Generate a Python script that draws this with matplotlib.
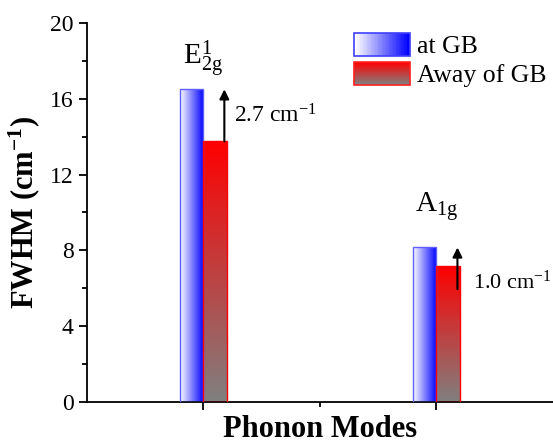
import matplotlib
matplotlib.use("Agg")
import matplotlib.pyplot as plt
import numpy as np
from matplotlib.patches import Rectangle
from matplotlib.legend_handler import HandlerBase
from matplotlib.colors import LinearSegmentedColormap
from matplotlib.ticker import MultipleLocator, FixedLocator, NullFormatter

# data
modes = [1, 2]
mode_labels = [r"E$^{1}_{2\mathrm{g}}$", r"A$_{1\mathrm{g}}$"]
fwhm_at_gb = [16.5, 8.15]
fwhm_away_gb = [13.75, 7.15]
diff_labels = [r"2.7 cm$^{-1}$", r"1.0 cm$^{-1}$"]

plt.rcParams["font.family"] = "Liberation Serif"
plt.rcParams["mathtext.fontset"] = "custom"
plt.rcParams["mathtext.rm"] = "Liberation Serif"
plt.rcParams["mathtext.it"] = "Liberation Serif"
plt.rcParams["mathtext.bf"] = "Liberation Serif:bold"

blue_cmap = LinearSegmentedColormap.from_list("bl", ["#ffffff", "#0000ff"])
red_cmap = LinearSegmentedColormap.from_list("rd", ["#808080", "#ff0000"])


class GradientHandler(HandlerBase):
    def __init__(self, cmap, horizontal, edge):
        super().__init__()
        self.cmap = cmap
        self.horizontal = horizontal
        self.edge = edge

    def create_artists(self, legend, orig_handle, xdescent, ydescent,
                       width, height, fontsize, trans):
        n = 40
        arts = []
        for i in range(n):
            c = self.cmap(i / (n - 1))
            if self.horizontal:
                r = Rectangle((-xdescent + width * i / n, -ydescent), width / n + 0.3,
                              height, facecolor=c, edgecolor="none", transform=trans)
            else:
                r = Rectangle((-xdescent, -ydescent + height * i / n), width,
                              height / n + 0.3, facecolor=c, edgecolor="none", transform=trans)
            arts.append(r)
        arts.append(Rectangle((-xdescent, -ydescent), width, height, facecolor="none",
                              edgecolor=self.edge, lw=1.2, transform=trans))
        return arts


fig = plt.figure(figsize=(5.53, 4.44), dpi=100)
ax = fig.add_axes([0.157, 0.095, 0.843, 0.853])

w = 0.1
grad_h = np.linspace(0, 1, 256).reshape(1, -1)
grad_v = np.linspace(0, 1, 256).reshape(-1, 1)

bars_a = ax.bar(np.array(modes) - w / 2, fwhm_at_gb, width=w, facecolor="none",
                edgecolor="#6060ff", lw=1.0, zorder=3)
bars_b = ax.bar(np.array(modes) + w / 2, fwhm_away_gb, width=w, facecolor="none",
                edgecolor="#ff0000", lw=1.0, zorder=3)

for b in bars_a:
    x0, y0 = b.get_x(), b.get_y()
    ax.imshow(grad_h, cmap=blue_cmap, aspect="auto", zorder=2,
              extent=[x0, x0 + b.get_width(), y0, y0 + b.get_height()])
for b in bars_b:
    x0, y0 = b.get_x(), b.get_y()
    ax.imshow(grad_v, cmap=red_cmap, aspect="auto", origin="lower", zorder=2,
              extent=[x0, x0 + b.get_width(), y0, y0 + b.get_height()])

# arrows and labels
arrow_start = [fwhm_away_gb[0], fwhm_away_gb[1] - 1.2]
for i, m in enumerate(modes):
    xa = m + w * 0.9
    ax.annotate("", xy=(xa, fwhm_at_gb[i]), xytext=(xa, arrow_start[i]),
                arrowprops=dict(arrowstyle="-|>", color="black", lw=1.5,
                                mutation_scale=14, shrinkA=0, shrinkB=0), zorder=5)
ax.text(1.13, (fwhm_at_gb[0] + fwhm_away_gb[0]) / 2, diff_labels[0], fontsize=17,
        va="center", ha="left")
ax.text(2.155, 6.3, diff_labels[1], fontsize=16, va="center", ha="left")
ax.text(1.0, 18.1, mode_labels[0], fontsize=21, ha="center", va="center")
ax.text(2.0, 10.3, mode_labels[1], fontsize=21, ha="center", va="center")

ax.set_xlim(0.5, 2.5)
ax.set_ylim(0, 20)
ax.set_xticks(modes)
ax.set_xticklabels([])
ax.xaxis.set_minor_locator(FixedLocator([1.5]))
ax.xaxis.set_minor_formatter(NullFormatter())
ax.yaxis.set_major_locator(MultipleLocator(4))
ax.yaxis.set_minor_locator(MultipleLocator(2))
ax.tick_params(axis="both", which="major", direction="out", length=6, width=1.3,
               labelsize=17)
ax.tick_params(axis="both", which="minor", direction="out", length=3.5, width=1.3)
for s in ["top", "right"]:
    ax.spines[s].set_visible(False)
for s in ["left", "bottom"]:
    ax.spines[s].set_linewidth(1.3)

ax.set_ylabel(r"FWHM (cm$^{\mathbf{-1}}$)", fontsize=22, fontweight="bold", labelpad=6)
ax.set_xlabel("Phonon Modes", fontsize=22, fontweight="bold", labelpad=0)

h1 = Rectangle((0, 0), 1, 1)
h2 = Rectangle((0, 0), 1, 1)
ax.legend([h1, h2], ["at GB", "Away of GB"], loc="upper right",
          bbox_to_anchor=(1.02, 1.015), frameon=False, fontsize=18.5,
          handlelength=2.15, handleheight=1.0, handletextpad=0.3, labelspacing=0.15,
          borderaxespad=0.2,
          handler_map={h1: GradientHandler(blue_cmap, True, "#4040ff"),
                       h2: GradientHandler(red_cmap, False, "#ff2020")})

fig.savefig("out.png", dpi=100)
